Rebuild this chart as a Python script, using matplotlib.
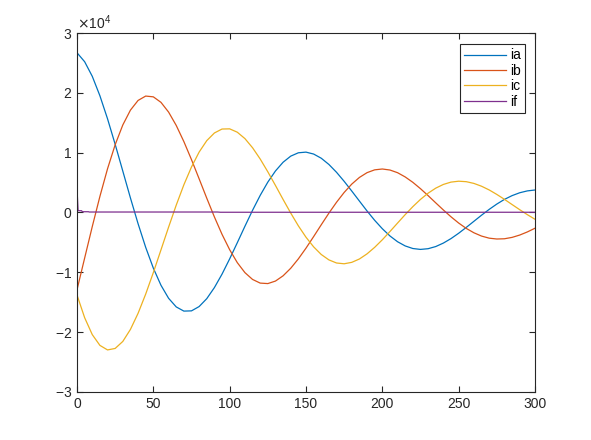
import numpy as np
import matplotlib
matplotlib.use("Agg")
import matplotlib.pyplot as plt
from matplotlib.ticker import ScalarFormatter

# sample times and phase currents
t = np.arange(0, 301, 5)
ia = [26700, 25200, 22760, 19510, 15660, 11390, 6920, 2430, -1870, -5830,
      -9300, -12160, -14340, -15780, -16480, -16440, -15720, -14400, -12550, -10300,
      -7750, -5050, -2300, 370, 2860, 5080, 6940, 8400, 9420, 9980,
      10090, 9770, 9070, 8030, 6720, 5210, 3580, 1910, 250, -1310,
      -2710, -3920, -4890, -5590, -6020, -6170, -6050, -5690, -5110, -4360,
      -3470, -2490, -1470, -450, 520, 1410, 2190, 2820, 3300, 3610, 3760]
ib = [-12910, -7620, -2350, 2690, 7310, 11330, 14630, 17110, 18730, 19460,
      19330, 18410, 16780, 14550, 11850, 8830, 5630, 2390, -740, -3650,
      -6220, -8380, -10050, -11190, -11800, -11880, -11460, -10580, -9320, -7750,
      -5960, -4030, -2050, -110, 1710, 3350, 4750, 5860, 6660, 7130,
      7270, 7100, 6650, 5940, 5040, 3980, 2820, 1610, 420, -720,
      -1760, -2660, -3390, -3940, -4290, -4430, -4390, -4160, -3770, -3250, -2630]
ic = [-13790, -17580, -20410, -22210, -22970, -22720, -21550, -19540, -16850, -13630,
      -10040, -6250, -2440, 1230, 4630, 7610, 10100, 12010, 13290, 13950,
      13980, 13420, 12350, 10820, 8940, 6800, 4520, 2180, -90, -2230,
      -4130, -5740, -7020, -7920, -8440, -8570, -8330, -7770, -6910, -5820,
      -4560, -3180, -1760, -350, 980, 2190, 3230, 4070, 4690, 5080,
      5230, 5150, 4860, 4390, 3770, 3020, 2200, 1330, 470, -360, -1130]

# field current: spike at start, then nearly flat
t_f = [0, 0.7, 3, 3.5, 7.5, 8, 92, 94, 300]
i_f = [4000, 300, 300, 130, 130, 80, 80, 40, 40]

plt.rcParams['font.family'] = ['Liberation Sans', 'DejaVu Sans']
plt.rcParams['axes.unicode_minus'] = False
plt.rcParams['font.size'] = 10

fig = plt.figure(figsize=(5.91, 4.40), dpi=100)
ax = fig.add_axes([0.1303, 0.1091, 0.7749, 0.8159])

lw = 0.9
ax.plot(t, ia, color="#0072BD", lw=lw, label="ia")
ax.plot(t, ib, color="#D95319", lw=lw, label="ib")
ax.plot(t, ic, color="#EDB120", lw=lw, label="ic")
ax.plot(t_f, i_f, color="#7E2F8E", lw=lw, label="if")

ax.set_xlim(0, 300)
ax.set_ylim(-30000, 30000)
ax.set_xticks(range(0, 301, 50))
ax.set_yticks(range(-30000, 30001, 10000))

fmt = ScalarFormatter(useMathText=True)
fmt.set_powerlimits((0, 0))
ax.yaxis.set_major_formatter(fmt)
ax.yaxis.get_offset_text().set_fontsize(10)
ax.yaxis.get_offset_text().set_color("#262626")

ax.tick_params(direction="in", length=4, width=0.8, top=True, right=True,
               colors="#262626", labelsize=10)
for s in ax.spines.values():
    s.set_color("#262626")
    s.set_linewidth(0.8)

leg = ax.legend(loc="upper right", bbox_to_anchor=(0.978, 0.9685), borderaxespad=0,
                handlelength=3.0, labelspacing=0.1, fancybox=False, framealpha=1,
                edgecolor="#262626", handletextpad=0.27, borderpad=0.3)
leg.get_frame().set_linewidth(0.8)

fig.savefig("out.png")
